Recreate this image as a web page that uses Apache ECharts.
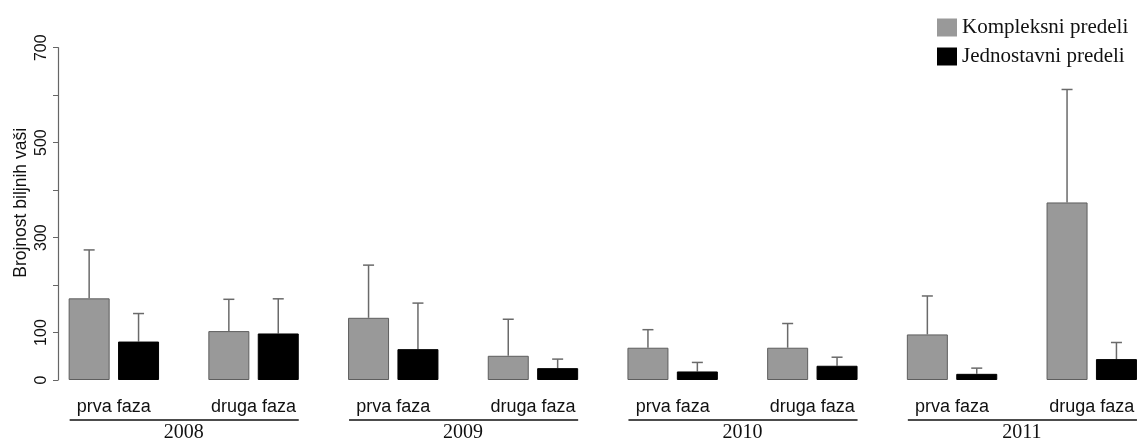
<!DOCTYPE html>
<html>
<head>
<meta charset="utf-8">
<script src="https://cdn.jsdelivr.net/npm/echarts@6/dist/echarts.min.js"></script>
<style>
html,body{margin:0;padding:0;background:#fff;}
#chart{width:1138px;height:439px;}
</style>
</head>
<body>
<div id="chart"></div>
<script>
const categories = ['prva faza','druga faza','prva faza','druga faza','prva faza','druga faza','prva faza','druga faza'];
const years = ['2008','2009','2010','2011'];
const kompleksni = [172, 103, 131, 51, 68, 68, 96, 374];
const kompleksniUpper = [274, 170, 242, 128, 106, 119, 177, 612];
const jednostavni = [81, 98, 65, 25, 18, 30, 13, 44];
const jednostavniUpper = [140, 171, 162, 44, 37, 48, 25, 79];
const yTickLabels = [0, 100, 300, 500, 700];

const BAR_W = 41, GAP = 8.4;
const OFF = (BAR_W + GAP) / 2;

function errSeries(vals, uppers, off) {
  return {
    type: 'custom',
    xAxisIndex: 0,
    z: 1,
    silent: true,
    data: vals.map((v, i) => [i, v, uppers[i]]),
    renderItem: function (params, api) {
      const b = api.coord([api.value(0), api.value(1)]);
      const t = api.coord([api.value(0), api.value(2)]);
      const x = b[0] + off;
      const style = { stroke: '#6a6a6a', lineWidth: 1.5 };
      return {
        type: 'group',
        children: [
          { type: 'line', shape: { x1: x, y1: b[1], x2: x, y2: t[1] }, style: style },
          { type: 'line', shape: { x1: x - 5.5, y1: t[1], x2: x + 5.5, y2: t[1] }, style: style }
        ]
      };
    }
  };
}

const chart = echarts.init(document.getElementById('chart'));
const option = {
  animation: false,
  backgroundColor: '#fff',
  grid: { left: 44, width: 1117.6, top: 47.7, bottom: 59, containLabel: false, outerBoundsMode: 'none' },
  legend: {
    orient: 'vertical',
    left: 937,
    top: 17,
    padding: 0,
    itemWidth: 20,
    itemHeight: 18,
    itemGap: 8,
    icon: 'rect',
    itemStyle: { borderWidth: 0 },
    textStyle: { fontFamily: 'Liberation Serif', fontSize: 21, color: '#111' },
    data: ['Kompleksni predeli', 'Jednostavni predeli']
  },
  xAxis: [
    {
      type: 'category',
      data: categories,
      axisLine: { show: false },
      axisTick: { show: false },
      axisLabel: { interval: 0, margin: 18, fontFamily: 'Liberation Sans', fontSize: 18, color: '#111' }
    },
    {
      type: 'category',
      data: years,
      position: 'bottom',
      offset: 43,
      axisLine: { show: false },
      axisTick: { show: false },
      axisLabel: { interval: 0, margin: 0, fontFamily: 'Liberation Serif', fontSize: 20, color: '#111' }
    }
  ],
  yAxis: {
    type: 'value',
    min: 0, max: 700, interval: 100,
    offset: -14,
    name: 'Brojnost biljnih vaši',
    nameLocation: 'middle',
    nameRotate: 90,
    nameGap: 28,
    nameMoveOverlap: false,
    nameTextStyle: { fontFamily: 'Liberation Sans', fontSize: 17.5, color: '#111', padding: [0, 0, 0, 22] },
    axisLine: { show: true, lineStyle: { color: '#666', width: 1.2 } },
    axisTick: { show: true, length: 5, lineStyle: { color: '#666' } },
    splitLine: { show: false },
    axisLabel: {
      rotate: 90, margin: 8,
      fontFamily: 'Liberation Sans', fontSize: 16, color: '#111',
      formatter: v => yTickLabels.includes(v) ? String(v) : ''
    }
  },
  series: [
    {
      name: 'Kompleksni predeli', type: 'bar', xAxisIndex: 0,
      data: kompleksni, barWidth: BAR_W, barGap: (GAP / BAR_W * 100) + '%',
      itemStyle: { color: '#999999', borderColor: '#5e5e5e', borderWidth: 1 }, z: 2
    },
    {
      name: 'Jednostavni predeli', type: 'bar', xAxisIndex: 0,
      data: jednostavni, barWidth: BAR_W,
      itemStyle: { color: '#000000', borderColor: '#000', borderWidth: 1 }, z: 2
    },
    errSeries(kompleksni, kompleksniUpper, -OFF),
    errSeries(jednostavni, jednostavniUpper, OFF)
  ]
};
chart.setOption(option);

// underline of each year, computed from axis positions
const lines = [];
for (let y = 0; y < years.length; y++) {
  const a = chart.convertToPixel({ xAxisIndex: 0 }, 2 * y);
  const b = chart.convertToPixel({ xAxisIndex: 0 }, 2 * y + 1);
  const yy = chart.convertToPixel({ yAxisIndex: 0 }, 0) + 40;
  lines.push({
    type: 'line',
    shape: { x1: a - OFF - BAR_W / 2 + 1, y1: yy, x2: b + OFF + BAR_W / 2, y2: yy },
    style: { stroke: '#111', lineWidth: 1.6 }
  });
}
chart.setOption({ graphic: lines });
</script>
</body>
</html>
